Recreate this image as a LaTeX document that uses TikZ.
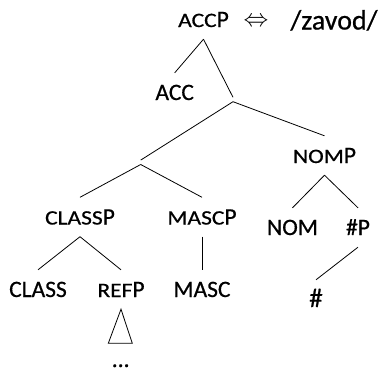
\documentclass[tikz,border=0pt]{standalone}
\usepackage{fontspec}
\setmainfont{Carlito}
\newfontfamily\lblfont{Carlito}[FakeBold=0.6]
\usepackage{graphicx}
\newcommand\smc[1]{\scalebox{1}[0.87]{#1}}
\tikzset{
  lbl/.style={anchor=base, inner xsep=0pt, inner ysep=12bp, text height=15bp, text depth=0pt,
    font=\fontsize{23.5bp}{28bp}\lblfont},
  plain/.style={anchor=base, inner sep=0pt},
  br/.style={inner sep=0pt, minimum size=4bp},
  edge/.style={line width=0.8bp, black}
}
\begin{document}
\begin{tikzpicture}[x=1bp,y=-1bp]
\useasboundingbox (0,0) rectangle (381,372);
% labels
\node[lbl] (accp) at (203.5,27) {\smc{ACC}P};
\node[plain, font=\fontsize{24bp}{28bp}\selectfont] (iff) at (256,26) {$\Leftrightarrow$};
\node[plain, font=\fontsize{28bp}{32bp}\lblfont] (zavod) at (334,29.5) {/zavod/};
\node[lbl] (acc) at (174.7,100) {ACC};
\node[br] (n1) at (233,99.5) {};
\node[br] (n2) at (140.7,162.3) {};
\node[lbl] (nomp) at (324.5,163) {\smc{NOM}P};
\node[lbl] (classp) at (80,224.5) {\smc{CLASS}P};
\node[lbl] (mascp) at (202,224.5) {\smc{MASC}P};
\node[lbl] (nom) at (292.5,235) {NOM};
\node[lbl] (hashp) at (358,235) {\#P};
\node[lbl] (class) at (38,297) {CLASS};
\node[lbl] (refp) at (121,297) {\smc{REF}P};
\node[lbl] (masc) at (202,297) {MASC};
\node[lbl, font=\fontsize{27bp}{30bp}\lblfont] (hash) at (316,307) {\#};
\node[plain, font=\fontsize{23.5bp}{28bp}\lblfont] (dots) at (120.7,367) {...};
\coordinate (tl) at (108.3,343.3);
\coordinate (tr) at (132.3,343.3);
% connectors
\draw[edge] (accp.south) -- (acc.north);
\draw[edge] (accp.south) -- (n1.north);
\draw[edge] (n1.south) -- (n2.north);
\draw[edge] (n1.south) -- (nomp.north);
\draw[edge] (n2.south) -- (classp.north);
\draw[edge] (n2.south) -- (mascp.north);
\draw[edge] (classp.south) -- (class.north);
\draw[edge] (classp.south) -- (refp.north);
\draw[edge] (mascp.south) -- (masc.north);
\draw[edge] (nomp.south) -- (nom.north);
\draw[edge] (nomp.south) -- (hashp.north);
\draw[edge] (hashp.south) -- (hash.north);
\draw[edge] (refp.south) -- (tl) -- (tr) -- cycle;
\end{tikzpicture}
\end{document}
